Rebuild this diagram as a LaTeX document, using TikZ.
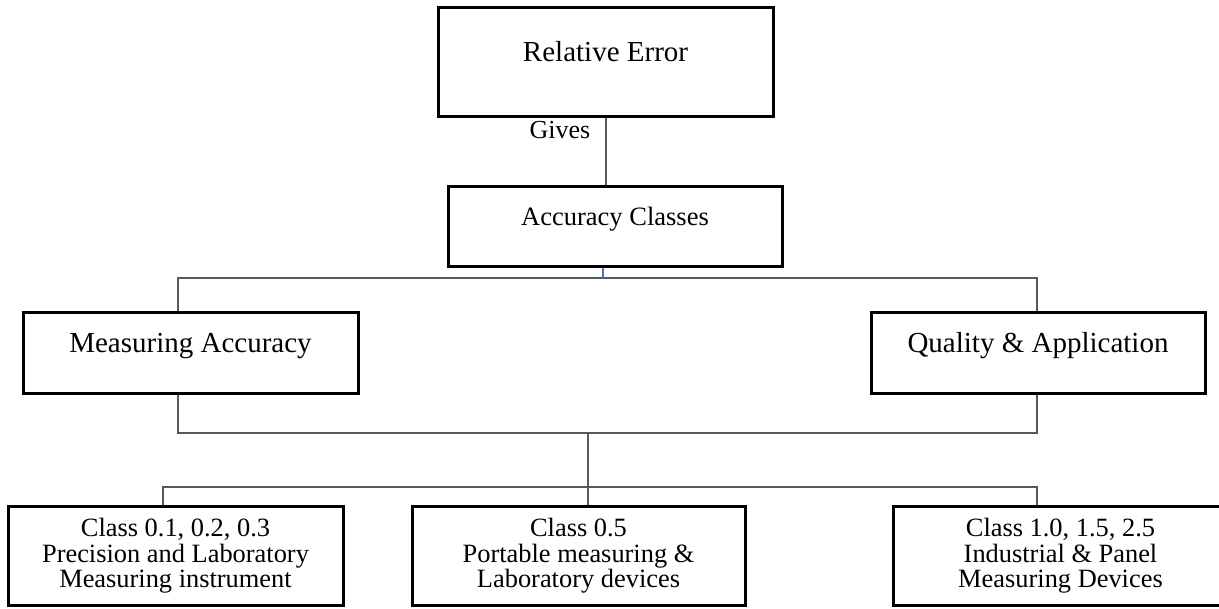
\documentclass[tikz,border=0pt]{standalone}
\usepackage{fontspec}
\setmainfont{Liberation Serif}
\begin{document}
\begin{tikzpicture}[x=1pt, y=1pt, boxStyle/.style={rectangle, draw, line width=3pt, fill=white, minimum width=335, inner sep=0pt}, topStyle/.style={boxStyle, font=\fontsize{29}{30}\selectfont, text height=8pt, text depth=10pt}, classStyle/.style={boxStyle, minimum height=98, align=center, font=\fontsize{26.4}{25.5}\selectfont}, lineStyle/.style={draw=black!65, line width=2pt}, tickStyle/.style={draw={rgb,255:red,68;green,114;blue,196}, line width=2pt}]
                    \useasboundingbox (0,0) rectangle (1219,-609);

                    \node[topStyle, minimum height=109] (rel)  at (605.5, -62.5) {Relative Error};
                    \node[font=\fontsize{26}{27}\selectfont] (gives) at (560, -130) {Gives};
                    \node[topStyle, minimum height=80, minimum width=334, font=\fontsize{26.5}{27}\selectfont] (acc) at (615, -227) {Accuracy Classes};

                    \node[topStyle, minimum height=81] (meas) at ( 190.5, -353.5) {Measuring Accuracy};
                    \node[topStyle, minimum height=81, minimum width=334] (qual) at (1038, -353.5) {Quality \& Application};

                    \node[classStyle] (cls1) at ( 175.5, -556) {Class 0.1, 0.2, 0.3\\Precision and Laboratory\\Measuring instrument};
                    \node[classStyle, minimum width=333] (cls2) at ( 578.5, -556) {Class 0.5\\Portable measuring \&\\Laboratory devices};
                    \node[classStyle] (cls3) at (1060.5, -556) {Class 1.0, 1.5, 2.5\\Industrial \& Panel\\Measuring Devices};

                    \coordinate (busL)  at ( 178, -278);
                    \coordinate (busM)  at ( 603, -278);
                    \coordinate (busR)  at (1037, -278);
                    \coordinate (joinL) at ( 178, -433);
                    \coordinate (joinM) at ( 588, -433);
                    \coordinate (joinR) at (1037, -433);
                    \coordinate (splitL) at ( 163, -487);
                    \coordinate (splitR) at (1037, -487);

                    \draw[lineStyle] (rel.south) -- (rel.south |- acc.north);
                    \draw[tickStyle] (busM |- acc.south) -- (busM);

                    \draw[lineStyle] (meas.north -| busL) -- (busL) -- (busR) -- (qual.north -| busR);
                    \draw[lineStyle] (meas.south -| joinL) -- (joinL) -- (joinR) -- (qual.south -| joinR);

                    \draw[lineStyle] (joinM) -- (joinM |- cls2.north);
                    \draw[lineStyle] (cls1.north -| splitL) -- (splitL) -- (splitR) -- (cls3.north -| splitR);
                \end{tikzpicture}
\end{document}
